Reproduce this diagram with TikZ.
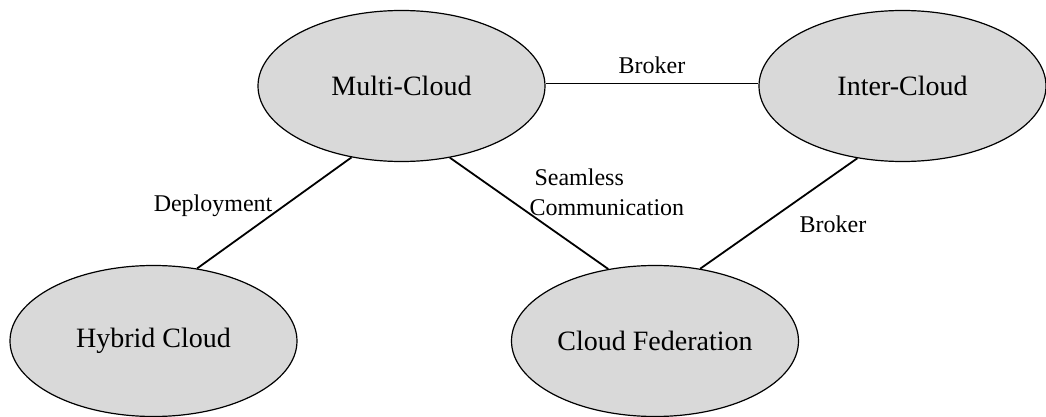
\documentclass[tikz,border=0pt]{standalone}
\usepackage{fontspec}
\setmainfont{Liberation Serif}
\usepackage{tikz}
\usetikzlibrary{shapes.geometric}
\definecolor{cloudfill}{RGB}{217,217,217}
\tikzstyle{cloudnode} = [ellipse, draw=black, line width=0.6pt, fill=cloudfill, minimum width=143.5pt, minimum height=75.5pt, inner sep=0pt, font=\fontsize{14}{17}\selectfont]
\tikzstyle{link} = [-, draw=black, line width=0.9pt]
\tikzstyle{tag} = [font=\fontsize{12}{15}\selectfont]

\begin{document}
\begin{tikzpicture}[x=0.5pt, y=-0.5pt]
 \useasboundingbox (0,0) rectangle (1046,417);
 \node [cloudnode] (MC) at (401.5, 86) {Multi-Cloud};
 \node [cloudnode] (IC) at (902.5, 86) {Inter-Cloud};
 \node [cloudnode] (HC) at (153.5, 341) {Hybrid Cloud};
 \node [cloudnode] (FD) at (655, 341) {Cloud Federation};
 \draw [link] (MC.1) -- node [tag, midway, above=1pt] {Broker} (IC.179);
 \draw [link] (MC.235) -- node [tag, pos=0.44, left=1.8pt] {Deployment} (HC.59);
 \draw [link] (MC.304) -- node [tag, pos=0.31, anchor=west, xshift=11.5pt, align=left] {\hspace{2.5pt}Seamless\\Communication} (FD.123);
 \draw [link] (IC.238) -- node [tag, pos=0.6, anchor=west, xshift=14.5pt] {Broker} (FD.58);
\end{tikzpicture}
\end{document}
